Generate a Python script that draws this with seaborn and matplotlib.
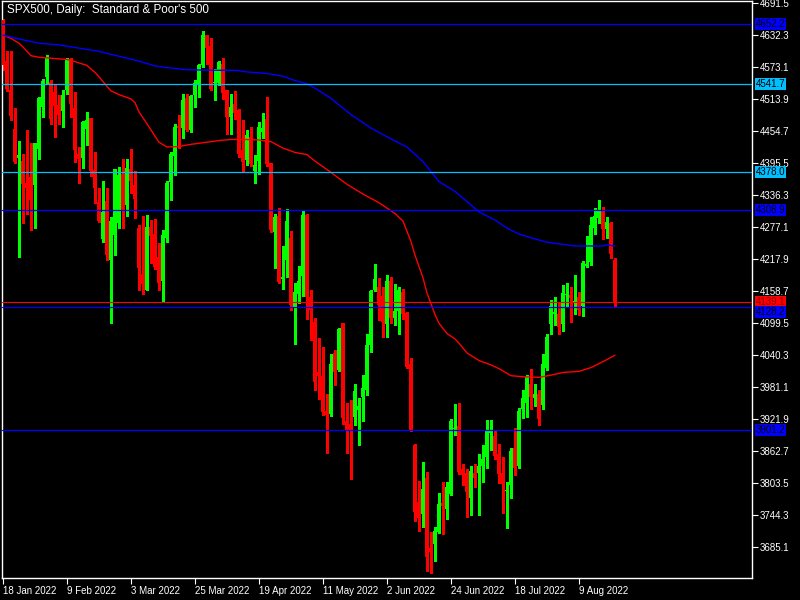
import numpy as np
import pandas as pd
import matplotlib
matplotlib.use('Agg')
import matplotlib.pyplot as plt
import matplotlib.transforms as mtransforms
from matplotlib import font_manager
import seaborn as sns

# SPX500 daily bars, 18 Jan 2022 .. 22 Aug 2022 (broker CFD feed, holiday sessions included)
opens = [4660, 4584, 4531, 4459, 4405, 4399, 4359, 4370, 4355, 4421,
         4500, 4555, 4546, 4527, 4503, 4492, 4531, 4587, 4498, 4412,
         4405, 4459, 4478, 4383, 4324, 4255, 4326, 4216, 4262, 4284,
         4376, 4318, 4385, 4355, 4275, 4190, 4161, 4278, 4264, 4222,
         4177, 4257, 4361, 4408, 4464, 4461, 4515, 4457, 4521, 4541,
         4576, 4632, 4612, 4544, 4543, 4578, 4530, 4481, 4504, 4493,
         4419, 4401, 4444, 4380, 4400, 4452, 4477, 4395, 4267, 4297,
         4180, 4216, 4256, 4128, 4154, 4186, 4300, 4148, 4102, 4008,
         4002, 3937, 3931, 4044, 4012, 4100, 3918, 3912, 3926, 3939,
         3962, 3975, 4058, 4160, 4167, 4150, 4097, 4178, 4108, 4121,
         4157, 4118, 4023, 3873, 3768, 3746, 3812, 3684, 3691, 3713,
         3766, 3755, 3783, 3903, 3908, 3829, 3822, 3775, 3822, 3822,
         3834, 3851, 3896, 3890, 3858, 3822, 3789, 3800, 3869, 3835,
         3941, 3951, 3986, 3960, 3968, 3948, 4017, 4097, 4116, 4116,
         4097, 4152, 4151, 4138, 4147, 4130, 4205, 4213, 4275, 4293,
         4307, 4273, 4284, 4216]
highs = [4662, 4603, 4603, 4497, 4437, 4412, 4456, 4432, 4433, 4517,
         4550, 4595, 4549, 4539, 4522, 4531, 4590, 4589, 4527, 4426,
         4473, 4490, 4478, 4416, 4350, 4362, 4350, 4295, 4385, 4389,
         4403, 4403, 4421, 4380, 4280, 4298, 4299, 4290, 4291, 4247,
         4271, 4362, 4415, 4468, 4484, 4524, 4524, 4521, 4549, 4579,
         4640, 4633, 4626, 4569, 4584, 4590, 4530, 4524, 4528, 4495,
         4475, 4456, 4463, 4410, 4472, 4488, 4518, 4396, 4301, 4313,
         4242, 4310, 4270, 4174, 4205, 4308, 4302, 4160, 4108, 4072,
         4055, 3969, 4043, 4050, 4091, 4100, 3951, 3957, 3986, 3960,
         4004, 4080, 4160, 4208, 4183, 4167, 4188, 4185, 4171, 4167,
         4162, 4120, 4034, 3876, 3808, 3842, 3824, 3712, 3722, 3785,
         3806, 3806, 3922, 3950, 3951, 3839, 3830, 3834, 3839, 3858,
         3874, 3920, 3920, 3902, 3876, 3852, 3806, 3868, 3906, 3942,
         3976, 4003, 4014, 3987, 3976, 4043, 4080, 4142, 4147, 4139,
         4170, 4173, 4167, 4189, 4156, 4215, 4260, 4296, 4312, 4327,
         4314, 4296, 4287, 4219]
lows = [4568, 4529, 4475, 4395, 4221, 4284, 4302, 4271, 4275, 4403,
        4481, 4541, 4467, 4444, 4467, 4463, 4523, 4481, 4398, 4359,
        4387, 4429, 4372, 4321, 4286, 4250, 4216, 4100, 4226, 4275,
        4275, 4298, 4340, 4293, 4160, 4154, 4160, 4210, 4200, 4161,
        4139, 4249, 4327, 4374, 4423, 4442, 4454, 4452, 4500, 4518,
        4574, 4578, 4530, 4512, 4539, 4514, 4450, 4450, 4476, 4407,
        4381, 4392, 4390, 4359, 4376, 4441, 4390, 4267, 4201, 4174,
        4163, 4185, 4124, 4061, 4137, 4149, 4106, 4068, 3975, 3958,
        3929, 3859, 3928, 3984, 4010, 3912, 3859, 3810, 3910, 3874,
        3918, 3966, 4046, 4158, 4105, 4073, 4073, 4100, 4095, 4080,
        4107, 4016, 3899, 3734, 3714, 3722, 3640, 3637, 3660, 3711,
        3710, 3736, 3781, 3893, 3820, 3799, 3741, 3744, 3796, 3744,
        3806, 3831, 3865, 3847, 3803, 3748, 3721, 3776, 3818, 3832,
        3923, 3926, 3940, 3946, 3911, 3940, 4013, 4080, 4096, 4080,
        4084, 4130, 4102, 4117, 4114, 4113, 4204, 4207, 4265, 4284,
        4254, 4256, 4219, 4130]
closes = [4577, 4533, 4483, 4398, 4410, 4356, 4350, 4327, 4432, 4516,
          4547, 4589, 4477, 4501, 4484, 4522, 4587, 4504, 4419, 4402,
          4471, 4475, 4380, 4349, 4289, 4305, 4226, 4289, 4385, 4374,
          4306, 4387, 4363, 4329, 4201, 4171, 4278, 4260, 4204, 4173,
          4262, 4358, 4412, 4463, 4461, 4512, 4456, 4520, 4543, 4576,
          4632, 4608, 4532, 4546, 4583, 4525, 4481, 4500, 4488, 4413,
          4397, 4447, 4393, 4392, 4462, 4460, 4394, 4272, 4296, 4175,
          4184, 4288, 4132, 4157, 4177, 4300, 4147, 4123, 3991, 4001,
          3935, 3930, 4024, 4008, 4089, 3924, 3901, 3901, 3974, 3946,
          3980, 4058, 4158, 4180, 4132, 4101, 4177, 4109, 4122, 4161,
          4116, 4018, 3901, 3750, 3738, 3792, 3667, 3675, 3714, 3765,
          3760, 3796, 3918, 3906, 3824, 3818, 3786, 3826, 3813, 3834,
          3848, 3902, 3900, 3853, 3820, 3802, 3791, 3863, 3832, 3936,
          3960, 3999, 3962, 3968, 3921, 4024, 4073, 4131, 4119, 4092,
          4155, 4153, 4145, 4141, 4124, 4210, 4208, 4281, 4298, 4306,
          4274, 4286, 4228, 4139.1]

# moving averages as drawn on the chart (bar index, value)
red_ma_bar = [0, 2, 4, 5, 6, 7, 9, 11, 14, 16, 18, 21, 23, 24, 26, 27, 29, 32, 33, 34,
              36, 38, 39, 41, 44, 47, 51, 54, 57, 61, 64, 67, 70, 73, 76, 78, 82, 86, 90, 94,
              98, 100, 102, 103, 105, 106, 108, 109, 111, 113, 114, 116, 119, 122, 124, 127, 130, 134, 137, 140,
              144, 147, 150, 153]
red_ma_val = [4632, 4626, 4617, 4610, 4602, 4594, 4591, 4590, 4588, 4587, 4583, 4576, 4563, 4555, 4537, 4529, 4522, 4514, 4507, 4490,
              4468, 4445, 4434, 4425, 4426, 4430, 4434, 4437, 4439, 4439, 4438, 4435, 4423, 4415, 4411, 4399, 4378, 4356, 4338, 4322,
              4302, 4288, 4250, 4225, 4183, 4155, 4115, 4099, 4080, 4070, 4062, 4044, 4030, 4022, 4015, 4002, 4000, 3999, 4003, 4008,
              4010, 4017, 4028, 4040]
blue_ma_bar = [0, 4, 9, 14, 19, 24, 29, 34, 38, 41, 46, 53, 58, 61, 66, 70, 73, 76, 78, 82,
               87, 92, 97, 101, 105, 109, 113, 116, 119, 123, 126, 129, 133, 136, 139, 143, 146, 150, 151, 153]
blue_ma_val = [4632, 4625, 4617, 4614, 4608, 4602, 4593, 4584, 4575, 4572, 4568, 4567, 4567, 4564, 4561, 4556, 4548, 4542, 4534, 4515,
               4485, 4460, 4440, 4425, 4398, 4361, 4343, 4324, 4305, 4290, 4275, 4264, 4255, 4249, 4246, 4242, 4242, 4242, 4244, 4242]

# horizontal levels with their price tags
levels = [4652.2, 4541.7, 4378.0, 4308.9, 4128.2, 3901.2]
level_colors = ['#0000ff', '#00bfff', '#00bfff', '#0000ff', '#0000ff', '#0000ff']
bid = closes[-1]

tick_labels = ['18 Jan 2022', '9 Feb 2022', '3 Mar 2022', '25 Mar 2022', '19 Apr 2022',
               '11 May 2022', '2 Jun 2022', '24 Jun 2022', '18 Jul 2022', '9 Aug 2022']
y_ticks = [3685.1, 3744.3, 3803.5, 3862.7, 3921.9, 3981.1, 4040.3, 4099.5, 4158.7,
           4217.9, 4277.1, 4336.3, 4395.5, 4454.7, 4513.9, 4573.1, 4632.3, 4691.5]

sns.set_style('dark', {'axes.facecolor': 'black', 'figure.facecolor': 'black',
                       'axes.edgecolor': 'white', 'text.color': 'white',
                       'xtick.color': 'white', 'ytick.color': 'white'})
installed = {f.name for f in font_manager.fontManager.ttflist}
if 'Liberation Sans Narrow' in installed:
    plt.rcParams['font.family'] = ['Liberation Sans Narrow', 'DejaVu Sans']
    fs = 8.2
else:
    plt.rcParams['font.family'] = ['Liberation Sans', 'DejaVu Sans']
    fs = 7

df = pd.DataFrame({'open': opens, 'high': highs, 'low': lows, 'close': closes})
df['bar'] = np.arange(len(df))
bull = df['close'] >= df['open']
colors = np.where(bull, '#00ff00', '#ff0000')

fig = plt.figure(figsize=(8, 6), dpi=100)
ax = fig.add_axes([2 / 800, 22 / 600, 750 / 800, 577 / 600])
ax.set_facecolor('black')

# candles
ax.vlines(df['bar'], df['low'], df['high'], colors=colors, linewidth=0.8,
          antialiased=False, zorder=2)
body_low = df[['open', 'close']].min(axis=1)
body_h = (df['close'] - df['open']).abs().clip(lower=1.9)
ax.bar(df['bar'], body_h, bottom=body_low, width=0.78, color=colors, linewidth=0,
       antialiased=False, zorder=3)

# moving averages
sns.lineplot(x=red_ma_bar, y=red_ma_val, color='#ff0000', linewidth=1.0, ax=ax, zorder=4)
sns.lineplot(x=blue_ma_bar, y=blue_ma_val, color='#0000ff', linewidth=1.0, ax=ax, zorder=4)

# levels and price tags
tag = mtransforms.blended_transform_factory(ax.transAxes, ax.transData)
ax.axhline(bid, color='#ff0000', linewidth=0.8, zorder=5)
ax.text(1.005, bid, f'{bid:.1f}', ha='left', va='center', fontsize=fs,
        color='#800000', clip_on=False, zorder=6, transform=tag,
        bbox=dict(boxstyle='square,pad=0.1', fc='#ff0000', ec='none'))
for lvl, col in zip(levels, level_colors):
    ax.axhline(lvl, color=col, linewidth=0.9, zorder=5)
    shift = -5 if lvl == 4128.2 else 0
    ax.text(1.005, lvl, f'{lvl:.1f}', ha='left', va='center', fontsize=fs,
            color='black', clip_on=False, zorder=7,
            transform=mtransforms.offset_copy(tag, fig=fig, x=0, y=shift, units='dots'),
            bbox=dict(boxstyle='square,pad=0.1', fc=col, ec='none'))

ax.set_xlim(-0.25, 187.25)
ax.set_ylim(3627.7, 4695.2)

ax.yaxis.tick_right()
ax.set_yticks(y_ticks)
ax.set_yticklabels([f'{v:.1f}' for v in y_ticks])
ax.set_xticks(np.arange(len(tick_labels)) * 16)
ax.set_xticklabels(tick_labels, ha='left')
ax.tick_params(axis='y', right=True, left=False, length=4, width=0.8, pad=1.5,
               labelsize=fs, colors='white', direction='out')
ax.tick_params(axis='x', bottom=True, length=4, width=0.8, pad=2,
               labelsize=fs, colors='white', direction='out')
for side in ['left', 'right', 'top', 'bottom']:
    ax.spines[side].set_color('white')
    ax.spines[side].set_linewidth(1)
ax.grid(False)
ax.set_xlabel('')
ax.set_ylabel('')

ax.text(5 / 750, 1 - 9 / 577, "SPX500, Daily:  Standard & Poor's 500", transform=ax.transAxes,
        ha='left', va='center', fontsize=8.4, color='white', zorder=8)

fig.savefig('out.png', dpi=100, facecolor='black')
